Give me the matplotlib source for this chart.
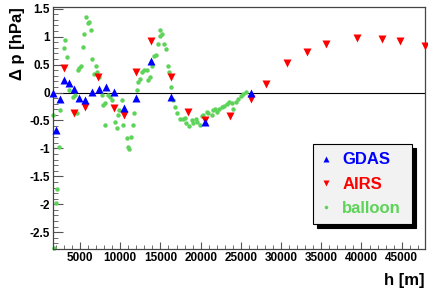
import numpy as np
import matplotlib
matplotlib.use('Agg')
import matplotlib.pyplot as plt
from matplotlib.ticker import MultipleLocator, FuncFormatter

# ── data ──
gdas_h = [1600, 1980, 2510, 3050, 3630, 4290, 4910, 5590, 6460, 7330, 8230,
          9270, 10510, 11970, 13790, 16320, 20550, 26310]
gdas_dp = [0.0, -0.67, -0.12, 0.22, 0.17, 0.06, -0.09, -0.14, 0.01, 0.07, 0.09,
           0.01, -0.27, -0.09, 0.57, -0.08, -0.52, 0.0]

airs_h = [3050, 4250, 5620, 7200, 9270, 10510, 11970, 13790, 16320, 18470, 20550,
          23660, 26230, 28100, 30780, 33270, 35600, 39420, 42600, 44760, 47870]
airs_dp = [0.43, -0.37, -0.26, 0.28, -0.27, -0.40, 0.37, 0.93, 0.27, -0.34, -0.50,
           -0.42, -0.12, 0.15, 0.52, 0.73, 0.87, 0.98, 0.95, 0.92, 0.84]

balloon_h = [1604, 1803, 1978, 2177, 2388, 2512, 2973, 3134, 3383, 3669, 4092,
             4378, 4590, 4789, 4913, 5124, 5373, 5535, 5746, 5958, 6119, 6368,
             6530, 6779, 6953, 7114, 7363, 7699, 7898, 8109, 8109, 8445, 8731,
             8943, 9353, 9565, 9764, 9888, 10187, 10386, 10808, 10933, 11132,
             11343, 11629, 11754, 12052, 12251, 12463, 12674, 12960, 13296,
             13495, 13700, 13918, 14204, 14453, 14739, 14950, 14950, 15236,
             15448, 15659, 15983, 16107, 16281, 16604, 16816, 17102, 17438,
             17774, 18060, 18184, 18595, 18893, 19092, 19428, 19590, 19925,
             20137, 20336, 20759, 20958, 21381, 21580, 21791, 22002, 22289,
             22624, 22900, 23246, 23532, 23868, 24067, 24366, 24689, 25025,
             25311, 25610]
balloon_dp = [-0.40, -2.79, -1.98, -1.72, -0.97, -0.31, 0.80, 0.94, 0.63, 0.04, -0.08,
              -0.05, -0.37, 0.40, 0.43, 0.47, 0.81, 1.05, 1.36, 1.24, 1.27, 1.11,
              0.60, 0.33, 0.48, 0.37, 0.28, -0.05, -0.23, -0.18, -0.58, -0.05, -0.08,
              -0.14, -0.52, -0.64, -0.40, -0.31, -0.14, -0.58, -0.82, -0.97, -1.01,
              -0.80, -0.58, -0.37, 0.04, 0.19, 0.24, 0.37, 0.40, 0.40,
              0.22, 0.28, 0.48, 0.66, 0.68, 0.87, 1.02, 1.12, 1.04,
              0.87, 0.78, 0.48, 0.37, 0.10, -0.14, -0.26, -0.37, -0.48,
              -0.48, -0.46, -0.55, -0.60, -0.50, -0.54, -0.48, -0.52, -0.58,
              -0.42, -0.40, -0.34, -0.36, -0.40, -0.31, -0.30, -0.34, -0.30,
              -0.26, -0.24, -0.20, -0.17, -0.18, -0.30, -0.17, -0.12, -0.07,
              -0.03, 0.01]

x_range = (1640, 47900)
y_range = (-2.8, 1.53)

plt.rcParams['font.family'] = ['Liberation Sans', 'DejaVu Sans']
plt.rcParams['font.weight'] = 'bold'
plt.rcParams['axes.unicode_minus'] = False

fig = plt.figure(figsize=(4.28, 2.89), dpi=100)
ax = fig.add_axes([53/428, 40/289, 372/428, 242/289])

green = '#5ed35a'
ax.axhline(0, color='black', lw=0.8, zorder=1)
ax.plot(balloon_h, balloon_dp, 'o', color=green, ms=3.2, mec='none',
        label='balloon', zorder=2, clip_on=False)
ax.plot(airs_h, airs_dp, 'v', color='red', ms=6, mec='none',
        label='AIRS', zorder=3, clip_on=False)
ax.plot(gdas_h, gdas_dp, '^', color='blue', ms=6, mec='none',
        label='GDAS', zorder=4, clip_on=False)

ax.set_xlim(*x_range)
ax.set_ylim(*y_range)

ax.xaxis.set_major_locator(MultipleLocator(5000))
ax.xaxis.set_minor_locator(MultipleLocator(1000))
ax.yaxis.set_major_locator(MultipleLocator(0.5))
ax.yaxis.set_minor_locator(MultipleLocator(0.1))
ax.yaxis.set_major_formatter(FuncFormatter(lambda v, p: '%g' % v))

ax.tick_params(axis='both', which='both', direction='in', color='#555555',
               top=False, right=False, labelsize=8.5)
ax.tick_params(axis='y', which='major', length=7.5, pad=2)
ax.tick_params(axis='y', which='minor', length=3.6)
ax.tick_params(axis='x', which='major', length=5, pad=2)
ax.tick_params(axis='x', which='minor', length=2.8)
for s in ax.spines.values():
    s.set_color('#444444')
    s.set_linewidth(0.9)

fig.text(18/428, 1 - 7/289, '\u0394 p [hPa]', rotation=90, ha='center',
         va='top', fontsize=12, fontweight='bold')
fig.text(424/428, 1 - 280/289, 'h [m]', ha='right', va='center',
         fontsize=12, fontweight='bold')

handles, labels = ax.get_legend_handles_labels()
order = [2, 1, 0]
leg = ax.legend([handles[i] for i in order], [labels[i] for i in order],
                loc='lower left', bbox_to_anchor=(0.699, 0.103, 0.266, 0.335),
                mode='expand', fontsize=12, frameon=True, fancybox=False,
                shadow={'color': 'black', 'alpha': 1.0, 'ox': 3, 'oy': -3},
                handlelength=0.6, handletextpad=0.65, labelspacing=0.55,
                borderpad=0.5, borderaxespad=0, markerscale=0.8)
leg.get_frame().set_facecolor('#f2f2f2')
leg.get_frame().set_edgecolor('black')
leg.get_frame().set_linewidth(0.8)
leg.get_frame().set_alpha(1.0)
for txt, col in zip(leg.get_texts(), ['blue', 'red', green]):
    txt.set_color(col)
    txt.set_fontweight('bold')

fig.savefig('out.png', dpi=100)
